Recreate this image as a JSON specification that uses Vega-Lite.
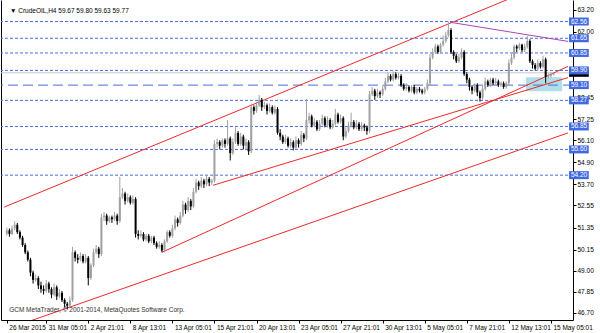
{
"$schema": "https://vega.github.io/schema/vega-lite/v6.json",
"width": 572, "height": 320,
"autosize": {"type": "none"},
"padding": {"left": 1, "top": 0, "right": 27, "bottom": 13},
"background": "white",
"config": {"view": {"stroke": null}, "font": "Liberation Sans", "axis": {"grid": false, "labelFont": "Liberation Sans", "labelFontSize": 6.5, "labelColor": "#000", "tickColor": "#000", "domainColor": "#000", "title": null}},
"datasets": {
"candles": [
{"i":1,"o":51.0,"h":51.35,"l":50.9,"c":51.2},{"i":2,"o":51.2,"h":51.3,"l":50.85,"c":51.0},{"i":3,"o":51.0,"h":51.45,"l":50.95,"c":51.3},{"i":4,"o":51.3,"h":51.7,"l":51.2,"c":51.5},{"i":5,"o":51.5,"h":51.6,"l":51.0,"c":51.1},
{"i":6,"o":51.1,"h":51.2,"l":50.7,"c":50.8},{"i":7,"o":50.8,"h":50.9,"l":50.3,"c":50.4},{"i":8,"o":50.4,"h":50.5,"l":49.9,"c":50.0},{"i":9,"o":50.0,"h":50.1,"l":49.5,"c":49.6},{"i":10,"o":49.6,"h":49.7,"l":48.7,"c":48.9},
{"i":11,"o":48.9,"h":49.0,"l":48.3,"c":48.5},{"i":12,"o":48.5,"h":48.8,"l":48.4,"c":48.6},{"i":13,"o":48.6,"h":48.7,"l":48.0,"c":48.2},{"i":14,"o":48.2,"h":48.4,"l":47.8,"c":48.0},{"i":15,"o":48.0,"h":48.2,"l":47.7,"c":47.9},
{"i":16,"o":47.9,"h":48.5,"l":47.8,"c":48.3},{"i":17,"o":48.3,"h":48.4,"l":47.8,"c":48.0},{"i":18,"o":48.0,"h":48.1,"l":47.5,"c":47.7},{"i":19,"o":47.7,"h":48.3,"l":47.6,"c":48.1},{"i":20,"o":48.1,"h":48.2,"l":47.4,"c":47.6},
{"i":21,"o":47.6,"h":48.0,"l":47.5,"c":47.8},{"i":22,"o":47.8,"h":47.9,"l":47.3,"c":47.4},{"i":23,"o":47.4,"h":47.5,"l":47.0,"c":47.2},{"i":24,"o":47.2,"h":47.3,"l":46.9,"c":47.1},{"i":25,"o":47.1,"h":47.6,"l":47.0,"c":47.4},
{"i":26,"o":47.4,"h":50.3,"l":47.3,"c":50.0},{"i":27,"o":50.0,"h":50.1,"l":49.5,"c":49.7},{"i":28,"o":49.7,"h":49.9,"l":49.4,"c":49.6},{"i":29,"o":49.6,"h":50.0,"l":49.5,"c":49.8},{"i":30,"o":49.8,"h":49.9,"l":49.4,"c":49.5},
{"i":31,"o":49.5,"h":49.9,"l":49.4,"c":49.7},{"i":32,"o":49.7,"h":49.8,"l":48.2,"c":48.6},{"i":33,"o":48.6,"h":49.4,"l":48.5,"c":49.3},{"i":34,"o":49.3,"h":50.2,"l":49.2,"c":50.0},{"i":35,"o":50.0,"h":50.4,"l":49.9,"c":50.2},
{"i":36,"o":50.2,"h":50.3,"l":49.7,"c":49.9},{"i":37,"o":49.9,"h":52.1,"l":49.8,"c":51.9},{"i":38,"o":51.9,"h":52.2,"l":51.7,"c":52.0},{"i":39,"o":52.0,"h":52.1,"l":51.5,"c":51.7},{"i":40,"o":51.7,"h":52.0,"l":51.6,"c":51.9},
{"i":41,"o":51.9,"h":52.0,"l":51.6,"c":51.8},{"i":42,"o":51.8,"h":52.2,"l":51.7,"c":52.0},{"i":43,"o":52.0,"h":52.1,"l":51.5,"c":51.7},{"i":44,"o":51.7,"h":54.1,"l":51.6,"c":53.0},{"i":45,"o":53.0,"h":53.5,"l":52.9,"c":53.2},
{"i":46,"o":53.2,"h":53.3,"l":52.6,"c":52.8},{"i":47,"o":52.8,"h":53.2,"l":52.7,"c":53.0},{"i":48,"o":53.0,"h":53.1,"l":52.6,"c":52.7},{"i":49,"o":52.7,"h":53.1,"l":52.6,"c":52.9},{"i":50,"o":52.9,"h":53.0,"l":50.8,"c":51.0},
{"i":51,"o":51.0,"h":51.2,"l":50.7,"c":50.9},{"i":52,"o":50.9,"h":51.2,"l":50.8,"c":51.0},{"i":53,"o":51.0,"h":51.1,"l":50.6,"c":50.7},{"i":54,"o":50.7,"h":51.0,"l":50.6,"c":50.9},{"i":55,"o":50.9,"h":51.0,"l":50.5,"c":50.6},
{"i":56,"o":50.6,"h":50.9,"l":50.5,"c":50.8},{"i":57,"o":50.8,"h":50.9,"l":50.4,"c":50.5},{"i":58,"o":50.5,"h":50.6,"l":50.2,"c":50.3},{"i":59,"o":50.3,"h":50.6,"l":50.2,"c":50.4},{"i":60,"o":50.4,"h":50.5,"l":50.0,"c":50.1},
{"i":61,"o":50.1,"h":50.7,"l":50.0,"c":50.6},{"i":62,"o":50.6,"h":51.2,"l":50.5,"c":51.1},{"i":63,"o":51.1,"h":51.2,"l":50.8,"c":50.9},{"i":64,"o":50.9,"h":51.5,"l":50.8,"c":51.3},{"i":65,"o":51.3,"h":52.0,"l":51.2,"c":51.8},
{"i":66,"o":51.8,"h":51.9,"l":51.4,"c":51.6},{"i":67,"o":51.6,"h":52.2,"l":51.5,"c":52.0},{"i":68,"o":52.0,"h":52.8,"l":51.9,"c":52.6},{"i":69,"o":52.6,"h":52.7,"l":52.1,"c":52.3},{"i":70,"o":52.3,"h":53.0,"l":52.2,"c":52.8},
{"i":71,"o":52.8,"h":52.9,"l":52.3,"c":52.5},{"i":72,"o":52.5,"h":53.5,"l":52.4,"c":53.3},{"i":73,"o":53.3,"h":54.0,"l":53.2,"c":53.8},{"i":74,"o":53.8,"h":53.9,"l":53.4,"c":53.6},{"i":75,"o":53.6,"h":54.1,"l":53.5,"c":53.9},
{"i":76,"o":53.9,"h":54.0,"l":53.5,"c":53.7},{"i":77,"o":53.7,"h":54.2,"l":53.6,"c":54.0},{"i":78,"o":54.0,"h":54.1,"l":53.6,"c":53.8},{"i":79,"o":53.8,"h":54.0,"l":53.65,"c":53.9},{"i":80,"o":53.9,"h":56.1,"l":53.8,"c":55.9},
{"i":81,"o":55.9,"h":56.2,"l":55.7,"c":56.0},{"i":82,"o":56.0,"h":56.1,"l":55.6,"c":55.8},{"i":83,"o":55.8,"h":56.2,"l":55.7,"c":56.1},{"i":84,"o":56.1,"h":56.2,"l":55.7,"c":55.9},{"i":85,"o":55.9,"h":57.2,"l":55.8,"c":56.2},
{"i":86,"o":56.2,"h":56.3,"l":55.0,"c":55.4},{"i":87,"o":55.4,"h":56.2,"l":55.3,"c":56.0},{"i":88,"o":56.0,"h":56.8,"l":55.9,"c":56.5},{"i":89,"o":56.5,"h":56.6,"l":55.8,"c":55.9},{"i":90,"o":55.9,"h":56.5,"l":55.8,"c":56.3},
{"i":91,"o":56.3,"h":56.4,"l":55.6,"c":55.8},{"i":92,"o":55.8,"h":56.2,"l":55.6,"c":56.0},{"i":93,"o":56.0,"h":56.1,"l":55.3,"c":55.5},{"i":94,"o":55.5,"h":58.1,"l":55.4,"c":57.9},{"i":95,"o":57.9,"h":58.0,"l":57.5,"c":57.7},
{"i":96,"o":57.7,"h":58.2,"l":57.6,"c":58.0},{"i":97,"o":58.0,"h":58.56,"l":57.9,"c":58.3},{"i":98,"o":58.3,"h":58.4,"l":57.7,"c":57.9},{"i":99,"o":57.9,"h":58.2,"l":57.8,"c":58.0},{"i":100,"o":58.0,"h":58.1,"l":57.5,"c":57.7},
{"i":101,"o":57.7,"h":58.1,"l":57.6,"c":57.9},{"i":102,"o":57.9,"h":58.0,"l":57.5,"c":57.6},{"i":103,"o":57.6,"h":58.0,"l":57.5,"c":57.8},{"i":104,"o":57.8,"h":57.9,"l":56.4,"c":56.5},{"i":105,"o":56.5,"h":56.7,"l":56.1,"c":56.3},
{"i":106,"o":56.3,"h":56.4,"l":55.9,"c":56.0},{"i":107,"o":56.0,"h":56.4,"l":55.9,"c":56.2},{"i":108,"o":56.2,"h":56.3,"l":55.7,"c":55.8},{"i":109,"o":55.8,"h":56.2,"l":55.7,"c":56.0},{"i":110,"o":56.0,"h":56.1,"l":55.55,"c":55.7},
{"i":111,"o":55.7,"h":56.3,"l":55.6,"c":56.1},{"i":112,"o":56.1,"h":56.2,"l":55.7,"c":55.9},{"i":113,"o":55.9,"h":56.6,"l":55.8,"c":56.4},{"i":114,"o":56.4,"h":56.5,"l":56.0,"c":56.2},{"i":115,"o":56.2,"h":58.35,"l":56.1,"c":57.2},
{"i":116,"o":57.2,"h":57.6,"l":57.0,"c":57.4},{"i":117,"o":57.4,"h":57.5,"l":56.8,"c":56.9},{"i":118,"o":56.9,"h":57.3,"l":56.8,"c":57.1},{"i":119,"o":57.1,"h":57.2,"l":56.6,"c":56.7},{"i":120,"o":56.7,"h":57.2,"l":56.6,"c":57.0},
{"i":121,"o":57.0,"h":57.5,"l":56.9,"c":57.3},{"i":122,"o":57.3,"h":57.4,"l":56.8,"c":56.9},{"i":123,"o":56.9,"h":57.4,"l":56.8,"c":57.2},{"i":124,"o":57.2,"h":57.3,"l":56.7,"c":56.8},{"i":125,"o":56.8,"h":57.2,"l":56.7,"c":57.0},
{"i":126,"o":57.0,"h":57.8,"l":56.9,"c":57.5},{"i":127,"o":57.5,"h":57.6,"l":57.0,"c":57.1},{"i":128,"o":57.1,"h":57.5,"l":57.0,"c":57.3},{"i":129,"o":57.3,"h":57.4,"l":56.1,"c":56.3},{"i":130,"o":56.3,"h":56.8,"l":56.2,"c":56.6},
{"i":131,"o":56.6,"h":57.1,"l":56.5,"c":56.9},{"i":132,"o":56.9,"h":57.6,"l":56.8,"c":57.1},{"i":133,"o":57.1,"h":57.2,"l":56.7,"c":56.8},{"i":134,"o":56.8,"h":57.2,"l":56.7,"c":57.0},{"i":135,"o":57.0,"h":57.1,"l":56.6,"c":56.7},
{"i":136,"o":56.7,"h":57.1,"l":56.6,"c":56.9},{"i":137,"o":56.9,"h":57.0,"l":56.6,"c":56.8},{"i":138,"o":56.8,"h":56.9,"l":56.4,"c":56.6},{"i":139,"o":56.6,"h":58.8,"l":56.5,"c":58.6},{"i":140,"o":58.6,"h":59.0,"l":58.5,"c":58.8},
{"i":141,"o":58.8,"h":58.9,"l":58.3,"c":58.5},{"i":142,"o":58.5,"h":58.9,"l":58.4,"c":58.7},{"i":143,"o":58.7,"h":58.8,"l":58.4,"c":58.6},{"i":144,"o":58.6,"h":59.1,"l":58.5,"c":58.9},{"i":145,"o":58.9,"h":59.5,"l":58.8,"c":59.3},
{"i":146,"o":59.3,"h":59.8,"l":59.2,"c":59.6},{"i":147,"o":59.6,"h":59.7,"l":59.3,"c":59.4},{"i":148,"o":59.4,"h":59.85,"l":59.3,"c":59.7},{"i":149,"o":59.7,"h":59.8,"l":59.4,"c":59.5},{"i":150,"o":59.5,"h":59.75,"l":59.4,"c":59.6},
{"i":151,"o":59.6,"h":59.7,"l":59.0,"c":59.1},{"i":152,"o":59.1,"h":59.2,"l":58.8,"c":58.9},{"i":153,"o":58.9,"h":59.2,"l":58.8,"c":59.0},{"i":154,"o":59.0,"h":59.1,"l":58.7,"c":58.8},{"i":155,"o":58.8,"h":59.1,"l":58.7,"c":59.0},
{"i":156,"o":59.0,"h":59.1,"l":58.6,"c":58.7},{"i":157,"o":58.7,"h":59.0,"l":58.6,"c":58.9},{"i":158,"o":58.9,"h":59.0,"l":58.7,"c":58.8},{"i":159,"o":58.8,"h":58.9,"l":58.6,"c":58.7},{"i":160,"o":58.7,"h":59.0,"l":58.6,"c":58.9},
{"i":161,"o":58.9,"h":59.4,"l":58.8,"c":59.2},{"i":162,"o":59.2,"h":60.8,"l":59.1,"c":60.6},{"i":163,"o":60.6,"h":61.1,"l":60.5,"c":60.9},{"i":164,"o":60.9,"h":61.35,"l":60.8,"c":61.2},{"i":165,"o":61.2,"h":61.3,"l":60.8,"c":60.9},
{"i":166,"o":60.9,"h":61.4,"l":60.8,"c":61.3},{"i":167,"o":61.3,"h":61.8,"l":61.2,"c":61.5},{"i":168,"o":61.5,"h":62.0,"l":61.4,"c":61.8},{"i":169,"o":61.8,"h":62.55,"l":61.7,"c":62.1},{"i":170,"o":62.1,"h":62.2,"l":60.8,"c":60.9},
{"i":171,"o":60.9,"h":61.0,"l":60.5,"c":60.7},{"i":172,"o":60.7,"h":60.8,"l":60.3,"c":60.4},{"i":173,"o":60.4,"h":60.8,"l":60.3,"c":60.6},{"i":174,"o":60.6,"h":61.1,"l":60.5,"c":60.9},{"i":175,"o":60.9,"h":61.0,"l":59.6,"c":59.7},
{"i":176,"o":59.7,"h":59.8,"l":59.2,"c":59.4},{"i":177,"o":59.4,"h":59.5,"l":58.8,"c":59.0},{"i":178,"o":59.0,"h":59.1,"l":58.6,"c":58.8},{"i":179,"o":58.8,"h":59.2,"l":58.7,"c":59.1},{"i":180,"o":59.1,"h":59.2,"l":58.5,"c":58.7},
{"i":181,"o":58.7,"h":58.8,"l":58.2,"c":58.4},{"i":182,"o":58.4,"h":59.1,"l":58.3,"c":58.9},{"i":183,"o":58.9,"h":59.5,"l":58.8,"c":59.3},{"i":184,"o":59.3,"h":59.4,"l":59.0,"c":59.1},{"i":185,"o":59.1,"h":59.5,"l":59.0,"c":59.4},
{"i":186,"o":59.4,"h":59.5,"l":59.1,"c":59.2},{"i":187,"o":59.2,"h":59.5,"l":59.1,"c":59.3},{"i":188,"o":59.3,"h":59.4,"l":59.0,"c":59.1},{"i":189,"o":59.1,"h":59.3,"l":59.0,"c":59.2},{"i":190,"o":59.2,"h":59.3,"l":58.9,"c":59.0},
{"i":191,"o":59.0,"h":59.3,"l":58.9,"c":59.2},{"i":192,"o":59.2,"h":60.5,"l":59.1,"c":60.3},{"i":193,"o":60.3,"h":60.8,"l":60.2,"c":60.6},{"i":194,"o":60.6,"h":61.3,"l":60.5,"c":61.2},{"i":195,"o":61.2,"h":61.3,"l":60.9,"c":61.1},
{"i":196,"o":61.1,"h":61.4,"l":61.0,"c":61.3},{"i":197,"o":61.3,"h":61.35,"l":60.9,"c":61.0},{"i":198,"o":61.0,"h":61.35,"l":60.9,"c":61.2},{"i":199,"o":61.2,"h":61.78,"l":61.1,"c":61.5},{"i":200,"o":61.5,"h":61.6,"l":60.3,"c":60.4},
{"i":201,"o":60.4,"h":60.5,"l":60.0,"c":60.2},{"i":202,"o":60.2,"h":60.3,"l":59.9,"c":60.0},{"i":203,"o":60.0,"h":60.5,"l":59.9,"c":60.3},{"i":204,"o":60.3,"h":60.4,"l":60.0,"c":60.1},{"i":205,"o":60.1,"h":60.7,"l":60.0,"c":60.5},
{"i":206,"o":60.5,"h":60.6,"l":59.2,"c":59.55},{"i":207,"o":59.55,"h":59.75,"l":59.45,"c":59.6},{"i":208,"o":59.6,"h":59.8,"l":59.5,"c":59.67},{"i":209,"o":59.67,"h":59.8,"l":59.63,"c":59.77}
],
"levels": [{"v":62.56},{"v":61.65},{"v":60.85},{"v":59.90},{"v":58.27},{"v":56.85},{"v":55.60},{"v":54.20}],
"boxes": [{"v":59.77},{"v":62.56},{"v":61.65},{"v":60.85},{"v":59.90},{"v":59.10},{"v":58.27},{"v":56.85},{"v":55.60},{"v":54.20}],
"trend": [
{"id":"A","i":0,"p":52.46},{"id":"A","i":200,"p":64.26},
{"id":"B","i":60,"p":50.0},{"id":"B","i":214.5,"p":60.12},
{"id":"C","i":79.5,"p":53.65},{"id":"C","i":214.5,"p":59.51},
{"id":"D","i":10,"p":46.27},{"id":"D","i":214.5,"p":56.5},
{"id":"P","i":169.7,"p":62.52},{"id":"P","i":214.5,"p":61.48}
],
"zone": [{"i1":198.5,"i2":212.3,"p1":59.53,"p2":58.77}]
},
"resolve": {"axis": {"x": "independent", "y": "independent"}},
"layer": [
{"data": {"name": "zone"}, "mark": {"type": "rect", "color": "#aedfe8"},
 "encoding": {
  "x": {"field": "i1", "type": "quantitative", "scale": {"domain": [0.7, 214.5], "nice": false, "zero": false},
   "axis": {"orient": "bottom", "values": [1,16,32,48,64,80,96,112,128,144,160,176,192,208], "labelExpr": "['26 Mar 2015','31 Mar 05:01','2 Apr 21:01','8 Apr 13:01','13 Apr 05:01','15 Apr 21:01','20 Apr 13:01','23 Apr 05:01','27 Apr 21:01','30 Apr 13:01','5 May 05:01','7 May 21:01','12 May 13:01','15 May 05:01'][indexof([1,16,32,48,64,80,96,112,128,144,160,176,192,208], datum.value)]", "labelAlign": "left", "labelBaseline": "top", "labelOffset": 2, "labelPadding": 1, "tickSize": 3, "labelOverlap": false, "labelFlush": false, "labelBound": false, "domain": true, "title": null}},
  "x2": {"field": "i2"},
  "y": {"field": "p1", "type": "quantitative", "scale": {"domain": [46.59, 63.46], "nice": false, "zero": false}, "axis": {"orient": "left", "labels": false, "ticks": false, "domain": true, "title": null}},
  "y2": {"field": "p2"}}},
{"data": {"name": "levels"}, "mark": {"type": "rule", "color": "#4a6ee0", "strokeWidth": 1, "strokeDash": [3, 2]},
 "encoding": {"y": {"field": "v", "type": "quantitative", "axis": null}}},
{"data": {"values": [{"v": 59.10}]}, "mark": {"type": "rule", "color": "#4a6ee0", "strokeWidth": 1, "strokeDash": [10, 5]},
 "encoding": {"y": {"field": "v", "type": "quantitative", "axis": null}}},
{"data": {"values": [{"v": 59.77}]}, "mark": {"type": "rule", "color": "#c8c8c8", "strokeWidth": 1},
 "encoding": {"y": {"field": "v", "type": "quantitative", "axis": null}}},
{"data": {"name": "trend"}, "mark": {"type": "line", "strokeWidth": 1, "clip": true},
 "encoding": {
  "x": {"field": "i", "type": "quantitative", "axis": null},
  "y": {"field": "p", "type": "quantitative", "axis": null},
  "detail": {"field": "id"},
  "color": {"field": "id", "type": "nominal", "legend": null, "scale": {"domain": ["A","B","C","D","P"], "range": ["#f02828","#f02828","#f02828","#f02828","#a846b4"]}}}},
{"data": {"name": "candles"}, "mark": {"type": "rule", "strokeWidth": 1},
 "encoding": {
  "x": {"field": "i", "type": "quantitative", "axis": null},
  "y": {"field": "l", "type": "quantitative", "axis": {"orient": "right", "values": [63.2,62.0,58.45,57.25,56.1,54.9,53.7,52.55,51.35,50.15,49.0,47.85,46.7], "format": ".2f", "tickSize": 3, "labelPadding": 1, "labelBaseline": "middle", "labelOverlap": false, "labelFlush": false, "domain": true, "title": null}},
  "y2": {"field": "h"},
  "color": {"condition": {"test": "datum.c >= datum.o", "value": "#a0a0a0"}, "value": "#000000"}}},
{"data": {"name": "candles"}, "mark": {"type": "bar", "width": 2, "orient": "vertical"},
 "encoding": {
  "x": {"field": "i", "type": "quantitative", "axis": null},
  "y": {"field": "o", "type": "quantitative", "axis": null},
  "y2": {"field": "c"},
  "color": {"condition": {"test": "datum.c >= datum.o", "value": "#a0a0a0"}, "value": "#000000"}}},
{"data": {"name": "boxes"}, "mark": {"type": "bar", "orient": "horizontal", "size": 8},
 "encoding": {
  "x": {"datum": 214.9, "type": "quantitative", "axis": null},
  "x2": {"datum": 222.4},
  "y": {"field": "v", "type": "quantitative", "axis": null},
  "color": {"condition": {"test": "datum.v == 59.77", "value": "#000000"}, "value": "#4169e1"}}},
{"data": {"name": "boxes"}, "transform": [{"filter": "datum.v != 59.77"}], "mark": {"type": "text", "align": "left", "baseline": "middle", "fontSize": 6.5, "color": "white"},
 "encoding": {
  "x": {"datum": 215.6, "type": "quantitative", "axis": null},
  "y": {"field": "v", "type": "quantitative", "axis": null},
  "text": {"field": "v", "format": ".2f"}}},
{"data": {"values": [{"t": "▼ CrudeOIL,H4  59.67 59.80 59.63 59.77"}]}, "mark": {"type": "text", "align": "left", "baseline": "middle", "fontSize": 6.5, "color": "#000", "font": "Liberation Sans, DejaVu Sans"},
 "encoding": {
  "x": {"datum": 2.2, "type": "quantitative", "axis": null},
  "y": {"datum": 63.14, "type": "quantitative", "axis": null},
  "text": {"field": "t"}}},
{"data": {"values": [{"t": "GCM MetaTrader, © 2001-2014, MetaQuotes Software Corp."}]}, "mark": {"type": "text", "align": "left", "baseline": "middle", "fontSize": 6.5, "color": "#303030"},
 "encoding": {
  "x": {"datum": 1.9, "type": "quantitative", "axis": null},
  "y": {"datum": 46.86, "type": "quantitative", "axis": null},
  "text": {"field": "t"}}}
]
}
